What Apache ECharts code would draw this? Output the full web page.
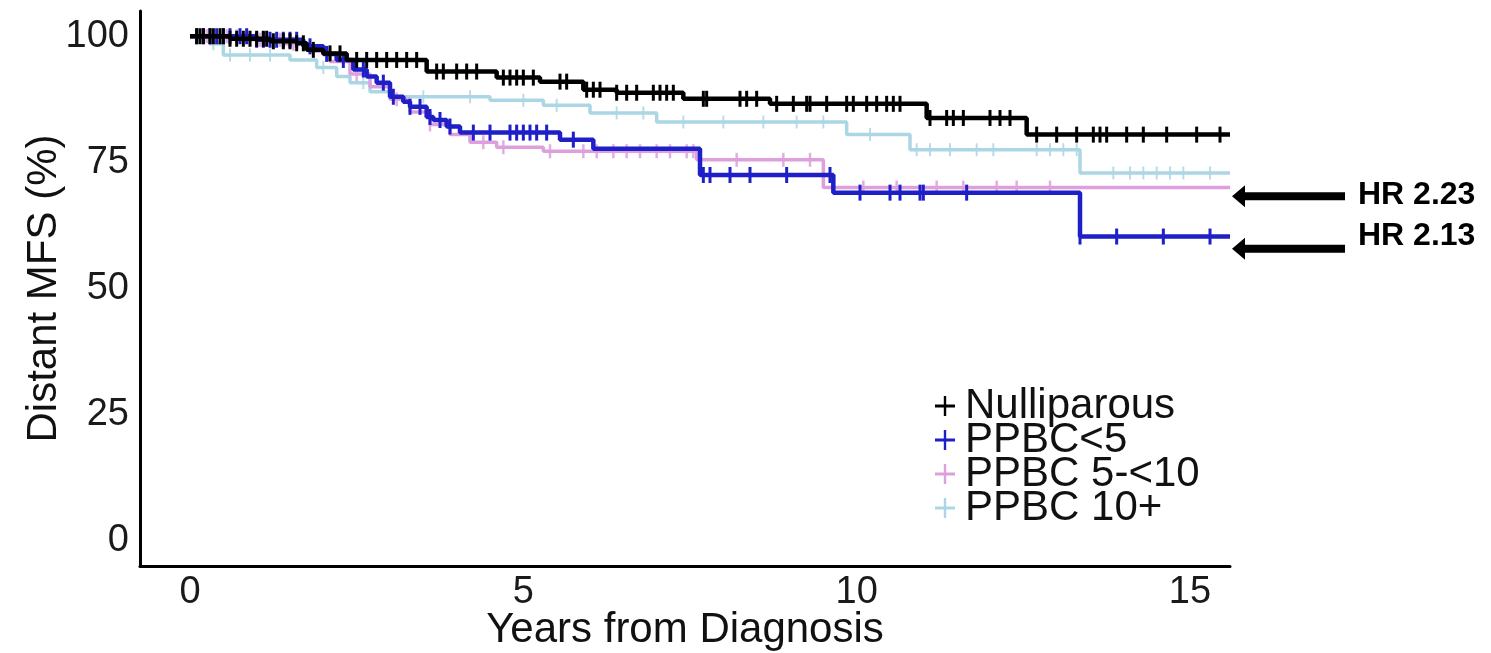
<!DOCTYPE html>
<html>
<head>
<meta charset="utf-8">
<script src="https://cdn.jsdelivr.net/npm/echarts@6/dist/echarts.min.js"></script>
<style>
html,body{margin:0;padding:0;background:#fff;overflow:hidden;}
#chart{width:1491px;height:653px;}
</style>
</head>
<body>
<div id="chart"></div>
<script>
// ---- Data ----
const groupNames = ['Nulliparous', 'PPBC<5', 'PPBC 5-<10', 'PPBC 10+'];
const xTickValues = [0, 5, 10, 15];
const yTickValues = [0, 25, 50, 75, 100];

// Kaplan-Meier steps: [years, survival %]
const kmNulliparous = [[0,100],[0.6,99.5],[1.2,99.0],[1.6,98.6],[1.75,97.3],[2.0,96.6],[2.35,95.3],[3.55,93.0],[4.6,91.8],[5.25,91.0],[5.9,89.4],[6.4,88.8],[7.4,87.6],[8.7,86.6],[11.05,83.8],[12.55,80.5],[15.6,80.5]];
const kmPPBC5 = [[0,100],[1.0,99.3],[1.7,98.0],[2.0,96.5],[2.2,95.3],[2.45,93.4],[2.65,92.0],[2.8,90.8],[3.0,88.0],[3.2,87.0],[3.3,86.0],[3.55,84.0],[3.65,83.4],[3.85,82.1],[4.05,80.9],[5.55,79.5],[6.05,77.7],[7.65,72.5],[9.65,69.0],[13.35,60.3],[15.6,60.3]];
const kmPPBC5to10 = [[0,100],[0.8,99.3],[1.4,98.5],[1.8,97.0],[2.1,95.0],[2.4,92.5],[2.7,90.0],[3.0,87.5],[3.3,85.0],[3.6,82.5],[3.9,80.5],[4.2,79.0],[4.6,78.0],[5.3,77.2],[7.6,75.5],[9.5,70.0],[15.6,70.0]];
const kmPPBC10 = [[0,100],[0.3,98.5],[0.5,96.3],[1.5,95.3],[1.9,93.8],[2.2,92.0],[2.4,90.8],[2.7,89.0],[3.0,88.0],[4.5,87.3],[5.3,86.3],[6.0,84.8],[7.0,83.0],[9.85,80.5],[10.8,77.5],[13.35,72.9],[15.6,72.9]];

// Censoring times (years)
const censNulliparous = [0.1,0.15,0.2,0.3,0.35,0.45,0.5,0.6,0.7,0.8,0.9,1.0,1.1,1.15,1.25,1.4,1.5,1.6,1.7,1.85,2.1,2.25,2.5,2.65,2.8,2.95,3.1,3.25,3.4,3.7,3.8,4.0,4.15,4.3,4.7,4.8,4.9,5.0,5.15,5.55,5.65,5.95,6.05,6.15,6.4,6.55,6.7,6.95,7.05,7.15,7.25,7.7,7.75,8.25,8.35,8.5,8.8,9.05,9.25,9.3,9.55,9.85,9.95,10.15,10.3,10.45,10.55,10.65,11.1,11.35,11.45,11.6,12.0,12.15,12.3,12.7,13.0,13.3,13.55,13.65,13.75,14.05,14.3,14.65,15.1,15.45];
const censPPBC5 = [0.1,0.2,0.3,0.4,0.5,0.6,0.75,0.85,1.0,1.1,1.2,1.3,1.4,1.5,1.6,1.8,2.05,2.3,2.6,2.9,3.05,3.3,3.45,3.6,3.75,3.9,4.25,4.5,4.8,4.9,5.0,5.1,5.2,5.35,5.75,7.7,7.8,8.1,8.4,8.95,9.6,10.05,10.5,10.65,10.95,11.0,11.65,13.35,13.9,14.6,15.3];
const censPPBC5to10 = [0.1,0.25,0.4,0.55,0.7,0.9,1.05,1.2,1.35,1.55,2.5,3.1,3.6,4.4,4.7,5.4,5.9,6.1,6.35,6.55,6.75,7.0,7.2,7.45,7.55,8.2,8.9,9.3,10.1,10.6,11.2,11.6,12.1,12.4,12.9];
const censPPBC10 = [0.15,0.35,0.6,0.9,1.2,2.0,2.6,3.5,4.2,5.0,5.5,6.4,6.8,7.4,8.0,8.6,9.1,9.5,10.2,10.9,11.1,11.4,11.8,12.05,12.7,12.9,13.1,13.3,13.85,14.1,14.3,14.5,14.7,14.9,15.3];

// Annotations (hazard ratios), y positions in survival %
const hrLabels = ['HR 2.23', 'HR 2.13'];
const hrArrowAt = [68.3, 57.9];
const hrTextAt = [68.4, 60.3];

// ---- Styles ----
const colors = ['#000000', '#1f1fc8', '#dda0dd', '#abd6e4'];
const lineWidths = [4.5, 4.5, 3.5, 3.5];
const tickSizes = [[3, 16], [3, 16], [2.5, 14], [2, 13]];
const curves = [kmNulliparous, kmPPBC5, kmPPBC5to10, kmPPBC10];
const censors = [censNulliparous, censPPBC5, censPPBC5to10, censPPBC10];

function stepAt(curve, t) {
  let v = curve[0][1];
  for (const p of curve) { if (p[0] <= t) v = p[1]; else break; }
  return v;
}

const X_MIN = -0.75, X_MAX = 15.6;
const FONT = '"Liberation Sans", Arial, Helvetica, sans-serif';

const series = [];
// draw order: light blue, pink, blue, black (black on top)
[3, 2, 1, 0].forEach(i => {
  series.push({
    name: groupNames[i], type: 'line', step: 'end',
    data: curves[i], showSymbol: false, symbol: 'none',
    lineStyle: { color: colors[i], width: lineWidths[i] },
    itemStyle: { color: colors[i] }, clip: true, z: 2 + (3 - i),
    animation: false
  });
  series.push({
    name: groupNames[i], type: 'scatter',
    data: censors[i].map(t => [t, stepAt(curves[i], t)]),
    symbol: 'rect', symbolSize: tickSizes[i],
    itemStyle: { color: colors[i], opacity: i >= 2 ? 0.85 : 1 }, z: 2 + (3 - i),
    silent: true, animation: false
  });
});

const chart = echarts.init(document.getElementById('chart'), null, { renderer: 'canvas', width: 1491, height: 653 });
const plusIcon = 'path://M0,43 L100,43 L100,57 L0,57 Z M44,0 L56,0 L56,100 L44,100 Z';

chart.setOption({
  animation: false,
  backgroundColor: '#ffffff',
  grid: { left: 140, right: 261, top: 11, bottom: 87, containLabel: false, outerBoundsMode: 'none' },
  xAxis: {
    type: 'value', min: X_MIN, max: X_MAX,
    name: 'Years from Diagnosis', nameLocation: 'middle', nameGap: 43, nameMoveOverlap: false,
    nameTextStyle: { fontFamily: FONT, fontSize: 42, color: '#111' },
    axisLine: { show: true, onZero: false, lineStyle: { color: '#000', width: 3 } },
    axisTick: { show: false, customValues: xTickValues },
    axisLabel: { customValues: xTickValues, margin: 8, fontFamily: FONT, fontSize: 38, color: '#1a1a1a' },
    splitLine: { show: false }
  },
  yAxis: {
    type: 'value', min: -5, max: 105,
    name: 'Distant MFS (%)', nameLocation: 'middle', nameGap: 75, nameMoveOverlap: false,
    nameTextStyle: { fontFamily: FONT, fontSize: 42, color: '#111' },
    axisLine: { show: true, onZero: false, lineStyle: { color: '#000', width: 3 } },
    axisTick: { show: false, customValues: yTickValues },
    axisLabel: { customValues: yTickValues, margin: 11, fontFamily: FONT, fontSize: 38, color: '#1a1a1a' },
    splitLine: { show: false }
  },
  legend: {
    orient: 'vertical', left: 935, top: 385,
    itemWidth: 30, itemHeight: 20, itemGap: -8, padding: 0,
    data: groupNames.map(n => ({ name: n, icon: plusIcon })),
    textStyle: { fontFamily: FONT, fontSize: 42, color: '#111' },
    selectedMode: false
  },
  series: series
});

// Hazard-ratio annotations, placed relative to the plot's right edge
const gridRight = chart.convertToPixel({ xAxisIndex: 0, yAxisIndex: 0 }, [X_MAX, 0])[0];
const graphics = [];
hrLabels.forEach((lab, k) => {
  const ay = chart.convertToPixel({ xAxisIndex: 0, yAxisIndex: 0 }, [X_MAX, hrArrowAt[k]])[1];
  const ty = chart.convertToPixel({ xAxisIndex: 0, yAxisIndex: 0 }, [X_MAX, hrTextAt[k]])[1];
  const tx = gridRight + 2;
  graphics.push({
    type: 'polygon', silent: true,
    shape: { points: [[tx, ay], [tx + 13, ay - 11], [tx + 13, ay - 4], [tx + 113, ay - 4], [tx + 113, ay + 4], [tx + 13, ay + 4], [tx + 13, ay + 11]] },
    style: { fill: '#000' }
  });
  graphics.push({
    type: 'text', silent: true, x: tx + 126, y: ty,
    style: { text: lab, fontFamily: FONT, fontWeight: 'bold', fontSize: 32, fill: '#000', verticalAlign: 'middle', align: 'left' }
  });
});
chart.setOption({ graphic: graphics });
</script>
</body>
</html>
